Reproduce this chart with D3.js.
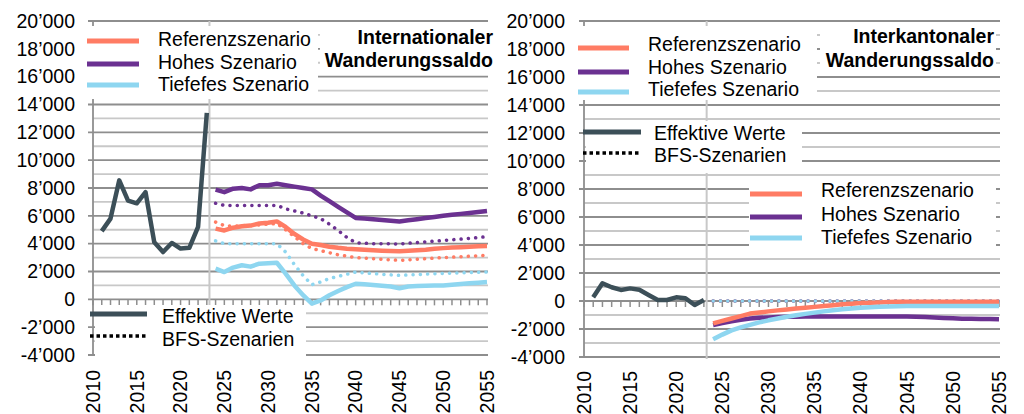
<!DOCTYPE html>
<html>
<head>
<meta charset="utf-8">
<script src="https://cdn.jsdelivr.net/npm/d3@7"></script>
<style>
body { margin: 0; background: #fff; }
svg text { font-family: "Liberation Sans", Arial, sans-serif; fill: #000; }
</style>
</head>
<body>
<div id="chart"></div>
<script>
// years
var histYears = [2011, 2012, 2013, 2014, 2015, 2016, 2017, 2018, 2019, 2020, 2021, 2022, 2023];
var scenYears = [2024, 2025, 2026, 2027, 2028, 2029, 2030, 2031, 2032, 2033, 2034, 2035, 2036, 2037, 2038, 2039,
                 2040, 2041, 2042, 2043, 2044, 2045, 2046, 2047, 2048, 2049, 2050, 2051, 2052, 2053, 2054, 2055];
var tickYears = [2010, 2015, 2020, 2025, 2030, 2035, 2040, 2045, 2050, 2055];
var yTicks = [-4000, -2000, 0, 2000, 4000, 6000, 8000, 10000, 12000, 14000, 16000, 18000, 20000];
var projStart = 2023.3;

// legend / title texts
var scenNames = ["Referenzszenario", "Hohes Szenario", "Tiefefes Szenario"];
var typeNames = ["Effektive Werte", "BFS-Szenarien"];
var titleInt = ["Internationaler", "Wanderungssaldo"];
var titleKan = ["Interkantonaler", "Wanderungssaldo"];

// Internationaler Wanderungssaldo
var intEff = [4900, 5800, 8550, 7100, 6900, 7700, 4100, 3400, 4050, 3650, 3700, 5200, 13400];
var intRef = [5080, 4950, 5150, 5250, 5300, 5450, 5500, 5600, 5200, 4700, 4300, 4000, 3900, 3780, 3700, 3640,
              3600, 3560, 3520, 3490, 3470, 3450, 3490, 3530, 3570, 3630, 3680, 3720, 3750, 3780, 3810, 3830];
var intHigh = [7880, 7700, 7950, 8000, 7900, 8200, 8200, 8300, 8200, 8100, 8000, 7900, 7450, 7050, 6650, 6250,
               5850, 5800, 5750, 5700, 5650, 5600, 5680, 5760, 5840, 5920, 6000, 6070, 6140, 6210, 6280, 6350];
var intLow = [2200, 1960, 2280, 2450, 2350, 2560, 2600, 2630, 1850, 1000, 300, -300, -80, 290, 600, 880,
              1120, 1080, 1030, 980, 920, 800, 920, 950, 970, 990, 1000, 1050, 1100, 1150, 1200, 1240];
var intRefBfs = [5550, 5300, 5250, 5300, 5300, 5350, 5400, 5450, 5000, 4500, 4000, 3650, 3500, 3350, 3200, 3100,
                 3000, 2960, 2920, 2880, 2840, 2800, 2840, 2880, 2920, 2960, 3000, 3030, 3060, 3100, 3130, 3160];
var intHighBfs = [6900, 6750, 6750, 6750, 6750, 6750, 6750, 6750, 6500, 6350, 6200, 6000, 5800, 5400, 4950, 4450,
                  4070, 4030, 4000, 4000, 3990, 3980, 4030, 4080, 4130, 4180, 4230, 4280, 4330, 4380, 4440, 4500];
var intLowBfs = [4200, 4000, 4000, 4000, 4000, 4000, 4000, 4000, 3400, 2500, 1700, 1050, 1250, 1500, 1650, 1800,
                 1960, 1900, 1850, 1800, 1760, 1720, 1750, 1780, 1810, 1840, 1860, 1880, 1900, 1920, 1940, 1960];

// Interkantonaler Wanderungssaldo
var kanEff = [260, 1260, 980, 790, 900, 800, 430, 70, 70, 260, 200, -290, 70];
var kanRef = [-1600, -1420, -1250, -1080, -900, -820, -740, -670, -600, -540, -480, -420, -360, -300, -240, -190,
              -150, -120, -100, -80, -60, -50, -50, -50, -50, -50, -50, -50, -50, -50, -50, -50];
var kanHigh = [-1720, -1580, -1450, -1340, -1250, -1200, -1170, -1150, -1130, -1120, -1110, -1100, -1100, -1100, -1100, -1100,
               -1100, -1100, -1100, -1100, -1100, -1100, -1120, -1150, -1180, -1210, -1240, -1260, -1270, -1280, -1290, -1300];
var kanLow = [-2740, -2400, -2100, -1880, -1700, -1530, -1380, -1250, -1130, -1020, -920, -830, -740, -660, -590, -530,
              -480, -440, -410, -390, -370, -360, -360, -360, -360, -360, -360, -360, -360, -360, -360, -360];
var kanRefBfs = [0, 0, 0, 0, 0, 0, 0, 0, 0, 0, 0, 0, 0, 0, 0, 0, 0, 0, 0, 0, 0, 0, 0, 0, 0, 0, 0, 0, 0, 0, 0, 0];
var kanHighBfs = [0, 0, 0, 0, 0, 0, 0, 0, 0, 0, 0, 0, 0, 0, 0, 0, 0, 0, 0, 0, 0, 0, 0, 0, 0, 0, 0, 0, 0, 0, 0, 0];
var kanLowBfs = [0, 0, 0, 0, 0, 0, 0, 0, 0, 0, 0, 0, 0, 0, 0, 0, 0, 0, 0, 0, 0, 0, 0, 0, 0, 0, 0, 0, 0, 0, 0, 0];

var colRef = "#ff7c64", colHigh = "#6b3191", colLow = "#8ed6f0", colEff = "#3c4f58";
var scenColors = [colRef, colHigh, colLow];

// swiss number format 20’000
var loc = d3.formatLocale({decimal: ".", thousands: "\u2019", grouping: [3], currency: ["", ""], minus: "-"});
var fmt = loc.format(",d");

var svg = d3.select("#chart").append("svg")
    .attr("width", 1024)
    .attr("height", 414);

function zip(xs, ys) {
    return xs.map(function(d, i) { return {year: d, value: ys[i]}; });
}

// white legend box with entries
function legendBox(g, box, items) {
    g.append("rect")
        .attr("x", box.x).attr("y", box.y)
        .attr("width", box.w).attr("height", box.h)
        .attr("fill", "#fff");
    items.forEach(function(it) {
        g.append("line")
            .attr("x1", it.x0).attr("x2", it.x1)
            .attr("y1", it.ly).attr("y2", it.ly)
            .attr("stroke", it.color)
            .attr("stroke-width", it.dash ? 3.5 : 5)
            .attr("stroke-dasharray", it.dash ? "3.5 3" : null);
        g.append("text")
            .attr("x", it.tx).attr("y", it.ty)
            .attr("dy", "0.35em")
            .style("font-size", "19.5px")
            .text(it.label);
    });
}

function drawPanel(p) {
    var g = svg.append("g");

    var x = d3.scaleLinear().domain([2010, 2055]).range([p.left, p.right]);
    var y = d3.scaleLinear().domain([-4000, 20000]).range([p.bottom, p.top]);

    // horizontal gridlines every 1000, darker at every 2000
    g.selectAll(".grid").data(y.ticks(24)).enter().append("line")
        .attr("x1", function(d) { return d % 2000 === 0 ? p.left - 5 : p.left; })
        .attr("x2", p.right + 1)
        .attr("y1", function(d) { return y(d); })
        .attr("y2", function(d) { return y(d); })
        .attr("stroke", function(d) { return d % 2000 === 0 ? "#8e8e8e" : "#c8c8c8"; })
        .attr("stroke-width", 1.8);

    // vertical separator between observed values and scenarios
    g.append("line")
        .attr("x1", x(projStart)).attr("x2", x(projStart))
        .attr("y1", p.top).attr("y2", p.bottom + 2)
        .attr("stroke", "#c8c8c8")
        .attr("stroke-width", 2);

    // y axis line
    g.append("line")
        .attr("x1", p.left).attr("x2", p.left)
        .attr("y1", p.top).attr("y2", p.bottom)
        .attr("stroke", "#8e8e8e")
        .attr("stroke-width", 1.8);

    // small year ticks hanging below the 0 line
    g.selectAll(".xt").data(x.ticks(45)).enter().append("line")
        .attr("x1", function(d) { return x(d); })
        .attr("x2", function(d) { return x(d); })
        .attr("y1", y(0)).attr("y2", y(0) + 6)
        .attr("stroke", "#8e8e8e")
        .attr("stroke-width", 1.5);

    // y labels
    g.selectAll(".yl").data(yTicks).enter().append("text")
        .attr("x", p.labelX)
        .attr("y", function(d) { return y(d); })
        .attr("dy", "0.35em")
        .attr("text-anchor", "end")
        .style("font-size", "19.5px")
        .text(function(d) { return fmt(d); });

    // x labels, rotated
    g.selectAll(".xl").data(tickYears).enter().append("text")
        .attr("transform", function(d) { return "translate(" + x(d) + "," + p.xLabelY + ") rotate(-90)"; })
        .attr("dy", "0.35em")
        .attr("text-anchor", "end")
        .style("font-size", "19.5px")
        .text(function(d) { return d; });

    var line = d3.line()
        .x(function(d) { return x(d.year); })
        .y(function(d) { return y(d.value); });

    // BFS scenarios (dotted)
    p.bfs.forEach(function(s, i) {
        g.append("path")
            .datum(zip(scenYears, s))
            .attr("fill", "none")
            .attr("stroke", scenColors[i])
            .attr("stroke-width", 3.5)
            .attr("stroke-linecap", "round")
            .attr("stroke-dasharray", "0.1 7.2")
            .attr("d", line);
    });

    // own scenarios (solid)
    p.order.forEach(function(i) {
        g.append("path")
            .datum(zip(scenYears, p.scen[i]))
            .attr("fill", "none")
            .attr("stroke", scenColors[i])
            .attr("stroke-width", 4.5)
            .attr("stroke-linejoin", "round")
            .attr("d", line);
    });

    // observed values
    g.append("path")
        .datum(zip(histYears, p.eff))
        .attr("fill", "none")
        .attr("stroke", colEff)
        .attr("stroke-width", 4.5)
        .attr("stroke-linejoin", "round")
        .attr("d", line);

    // legends
    p.scenLegends.forEach(function(L) {
        legendBox(g, L.box, scenNames.map(function(n, i) {
            return {label: n, color: scenColors[i], x0: L.x0, x1: L.x1, ly: L.ly[i], tx: L.tx, ty: L.ty[i]};
        }));
    });
    var E = p.effLegend;
    legendBox(g, E.box, [
        {label: typeNames[0], color: colEff, x0: E.x0, x1: E.x1, ly: E.ly[0], tx: E.tx, ty: E.ty[0]},
        {label: typeNames[1], color: "#000", dash: true, x0: E.x0, x1: E.x1, ly: E.ly[1], tx: E.tx, ty: E.ty[1]}
    ]);

    // title box
    g.append("rect")
        .attr("x", p.titleBox.x).attr("y", p.titleBox.y)
        .attr("width", p.titleBox.w).attr("height", p.titleBox.h)
        .attr("fill", "#fff");
    p.title.forEach(function(t, i) {
        g.append("text")
            .attr("x", p.titleX)
            .attr("y", p.titleY[i])
            .attr("dy", "0.35em")
            .attr("text-anchor", "end")
            .style("font-size", "19.5px")
            .style("font-weight", "bold")
            .text(t);
    });
}

// left panel
drawPanel({
    left: 93, right: 487, top: 21, bottom: 355, labelX: 75, xLabelY: 370,
    eff: intEff,
    scen: [intRef, intHigh, intLow],
    bfs: [intRefBfs, intHighBfs, intLowBfs],
    order: [0, 1, 2],
    scenLegends: [
        {box: {x: 85, y: 26, w: 233, h: 73}, x0: 87, x1: 139, ly: [41, 64, 85], tx: 158, ty: [39, 62, 84]}
    ],
    effLegend: {box: {x: 95, y: 305, w: 211, h: 52}, x0: 90, x1: 147, ly: [314, 336], tx: 162, ty: [316, 339]},
    titleBox: {x: 320, y: 26, w: 175, h: 46},
    title: titleInt, titleX: 493, titleY: [37, 60]
});

// right panel
drawPanel({
    left: 584, right: 999, top: 21, bottom: 357, labelX: 565, xLabelY: 371,
    eff: kanEff,
    scen: [kanRef, kanHigh, kanLow],
    bfs: [kanRefBfs, kanHighBfs, kanLowBfs],
    order: [1, 0, 2],
    scenLegends: [
        {box: {x: 575, y: 26, w: 242, h: 74}, x0: 578, x1: 629, ly: [48, 72, 92], tx: 648, ty: [44, 67, 89]},
        {box: {x: 749, y: 176, w: 247, h: 76}, x0: 750, x1: 802, ly: [194, 217, 238], tx: 821, ty: [190, 214, 237]}
    ],
    effLegend: {box: {x: 586, y: 121, w: 216, h: 52}, x0: 583, x1: 641, ly: [132, 153], tx: 654, ty: [133, 155]},
    titleBox: {x: 820, y: 26, w: 176, h: 46},
    title: titleKan, titleX: 994, titleY: [36, 60]
});
</script>
</body>
</html>
